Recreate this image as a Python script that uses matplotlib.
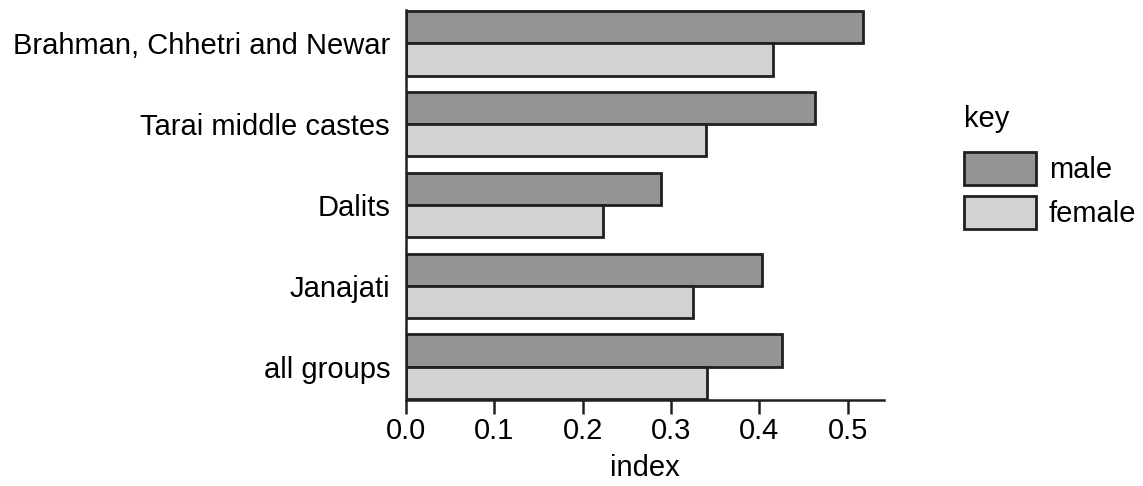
import matplotlib
matplotlib.use("Agg")
import matplotlib.pyplot as plt
import numpy as np
from matplotlib.patches import Patch

plt.rcParams['font.family'] = ['Liberation Sans', 'DejaVu Sans']

categories = ["Brahman, Chhetri and Newar", "Tarai middle castes", "Dalits", "Janajati", "all groups"]
male = [0.517, 0.463, 0.289, 0.403, 0.426]
female = [0.415, 0.340, 0.223, 0.325, 0.341]
xticks = [0.0, 0.1, 0.2, 0.3, 0.4, 0.5]

c_male = "#939495"
c_female = "#d1d2d4"
edge = "#231f20"
fs = 21

fig = plt.figure(figsize=(11.43, 4.86), dpi=100)
ax = fig.add_axes([406/1143, 1-400/486, (884-406)/1143, 390/486])

y = np.arange(len(categories))
h = 0.4
ax.barh(y - h/2, male, height=h, color=c_male, edgecolor=edge, linewidth=2.0, label="male")
ax.barh(y + h/2, female, height=h, color=c_female, edgecolor=edge, linewidth=2.0, label="female")

ax.set_ylim(len(categories) - 1 + h + 0.01, -h - 0.01)
ax.set_xlim(0, 0.541)
ax.set_yticks(y)
ax.set_yticklabels(categories, fontsize=fs)
ax.set_xticks(xticks)
ax.set_xticklabels([f"{t:.1f}" for t in xticks], fontsize=fs)
ax.tick_params(axis='y', length=0, pad=11.5)
ax.tick_params(axis='x', length=10, width=1.8, color=edge, pad=2)
for s in ['top', 'right']:
    ax.spines[s].set_visible(False)
for s in ['left', 'bottom']:
    ax.spines[s].set_linewidth(1.8)
    ax.spines[s].set_color(edge)
ax.set_xlabel("index", fontsize=fs, labelpad=7)

fig.text(964/1143, 1-127/486, "key", fontsize=fs, ha='left', va='baseline')
handles = [Patch(facecolor=c_male, edgecolor=edge, linewidth=2.0, label="male"),
           Patch(facecolor=c_female, edgecolor=edge, linewidth=2.0, label="female")]
leg = fig.legend(handles=handles, loc='upper left',
                 bbox_to_anchor=(949/1143, 1-137/486), frameon=False,
                 fontsize=fs, handlelength=2.48, handleheight=1.36,
                 labelspacing=0.4, handletextpad=0.45, borderpad=0)

fig.savefig("out.png", dpi=100)
